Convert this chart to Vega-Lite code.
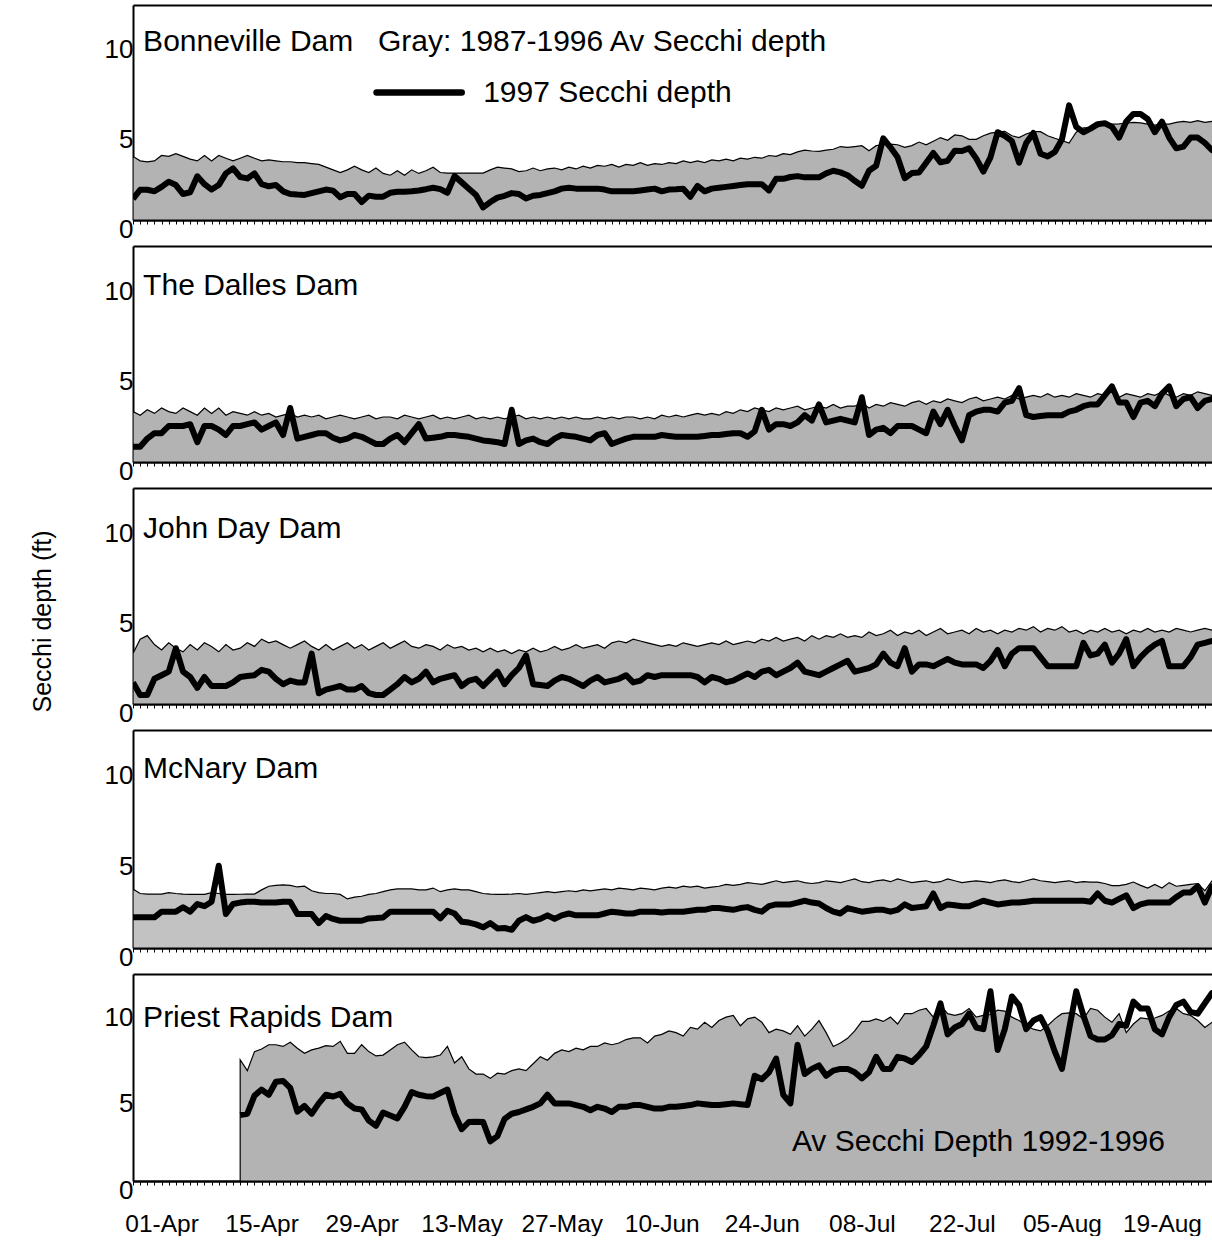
{
  "$schema": "https://vega.github.io/schema/vega-lite/v6.json",
  "background": "white",
  "padding": {"left": 30, "top": 5, "right": 0, "bottom": 0},
  "config": {
    "view": {"stroke": null},
    "font": "Liberation Sans",
    "axis": {"labelColor": "black", "titleColor": "black", "titleFontWeight": "normal", "grid": false},
    "text": {"color": "black"}
  },
  "data": {"values": [
    {"date":"1997-03-28","bon_avg":3.55,"bon_1997":1.17,"dal_avg":2.8,"dal_1997":0.85,"jd_avg":2.8,"jd_1997":1.2,"mcn_avg":3.25,"mcn_1997":1.69},
    {"date":"1997-03-29","bon_avg":3.3,"bon_1997":1.69,"dal_avg":2.6,"dal_1997":0.85,"jd_avg":3.6,"jd_1997":0.5,"mcn_avg":3.0,"mcn_1997":1.69},
    {"date":"1997-03-30","bon_avg":3.25,"bon_1997":1.69,"dal_avg":2.9,"dal_1997":1.3,"jd_avg":3.8,"jd_1997":0.5,"mcn_avg":2.97,"mcn_1997":1.69},
    {"date":"1997-03-31","bon_avg":3.3,"bon_1997":1.6,"dal_avg":2.7,"dal_1997":1.6,"jd_avg":3.3,"jd_1997":1.4,"mcn_avg":2.97,"mcn_1997":1.69},
    {"date":"1997-04-01","bon_avg":3.6,"bon_1997":1.85,"dal_avg":3.0,"dal_1997":1.6,"jd_avg":3.0,"jd_1997":1.6,"mcn_avg":2.97,"mcn_1997":2.0},
    {"date":"1997-04-02","bon_avg":3.55,"bon_1997":2.14,"dal_avg":2.8,"dal_1997":2.0,"jd_avg":3.4,"jd_1997":1.8,"mcn_avg":3.05,"mcn_1997":2.0},
    {"date":"1997-04-03","bon_avg":3.7,"bon_1997":1.95,"dal_avg":2.7,"dal_1997":2.0,"jd_avg":3.1,"jd_1997":3.1,"mcn_avg":3.0,"mcn_1997":2.0},
    {"date":"1997-04-04","bon_avg":3.55,"bon_1997":1.45,"dal_avg":3.0,"dal_1997":2.0,"jd_avg":2.9,"jd_1997":1.8,"mcn_avg":2.97,"mcn_1997":2.24},
    {"date":"1997-04-05","bon_avg":3.4,"bon_1997":1.55,"dal_avg":2.8,"dal_1997":2.1,"jd_avg":3.3,"jd_1997":1.5,"mcn_avg":2.95,"mcn_1997":2.0},
    {"date":"1997-04-06","bon_avg":3.3,"bon_1997":2.44,"dal_avg":2.6,"dal_1997":1.1,"jd_avg":3.0,"jd_1997":0.9,"mcn_avg":2.95,"mcn_1997":2.42},
    {"date":"1997-04-07","bon_avg":3.6,"bon_1997":2.0,"dal_avg":3.0,"dal_1997":2.0,"jd_avg":3.4,"jd_1997":1.5,"mcn_avg":2.95,"mcn_1997":2.3},
    {"date":"1997-04-08","bon_avg":3.3,"bon_1997":1.7,"dal_avg":2.7,"dal_1997":2.0,"jd_avg":3.2,"jd_1997":1.0,"mcn_avg":3.05,"mcn_1997":2.55},
    {"date":"1997-04-09","bon_avg":3.6,"bon_1997":1.95,"dal_avg":3.0,"dal_1997":1.8,"jd_avg":2.9,"jd_1997":1.0,"mcn_avg":3.0,"mcn_1997":4.53},
    {"date":"1997-04-10","bon_avg":3.45,"bon_1997":2.6,"dal_avg":2.6,"dal_1997":1.5,"jd_avg":3.3,"jd_1997":1.0,"mcn_avg":2.95,"mcn_1997":1.87},
    {"date":"1997-04-11","bon_avg":3.3,"bon_1997":2.88,"dal_avg":2.8,"dal_1997":2.0,"jd_avg":3.0,"jd_1997":1.2,"mcn_avg":2.95,"mcn_1997":2.42},
    {"date":"1997-04-12","bon_avg":3.45,"bon_1997":2.4,"dal_avg":2.7,"dal_1997":2.0,"jd_avg":3.1,"jd_1997":1.5,"mcn_avg":2.96,"mcn_1997":2.5,"pr_avg":7.03,"pr_1997":3.83},
    {"date":"1997-04-13","bon_avg":3.6,"bon_1997":2.32,"dal_avg":2.6,"dal_1997":2.1,"jd_avg":3.4,"jd_1997":1.55,"mcn_avg":2.97,"mcn_1997":2.55,"pr_avg":6.4,"pr_1997":3.9},
    {"date":"1997-04-14","bon_avg":3.45,"bon_1997":2.6,"dal_avg":2.8,"dal_1997":2.2,"jd_avg":3.2,"jd_1997":1.6,"mcn_avg":2.97,"mcn_1997":2.55,"pr_avg":7.5,"pr_1997":4.95},
    {"date":"1997-04-15","bon_avg":3.3,"bon_1997":2.0,"dal_avg":2.6,"dal_1997":1.8,"jd_avg":3.6,"jd_1997":1.9,"mcn_avg":3.2,"mcn_1997":2.5,"pr_avg":7.65,"pr_1997":5.3},
    {"date":"1997-04-16","bon_avg":3.35,"bon_1997":1.88,"dal_avg":2.7,"dal_1997":2.0,"jd_avg":3.4,"jd_1997":1.8,"mcn_avg":3.4,"mcn_1997":2.5,"pr_avg":7.9,"pr_1997":5.0},
    {"date":"1997-04-17","bon_avg":3.3,"bon_1997":1.95,"dal_avg":2.5,"dal_1997":2.2,"jd_avg":3.5,"jd_1997":1.4,"mcn_avg":3.45,"mcn_1997":2.5,"pr_avg":7.9,"pr_1997":5.75},
    {"date":"1997-04-18","bon_avg":3.25,"bon_1997":1.6,"dal_avg":2.6,"dal_1997":1.5,"jd_avg":3.3,"jd_1997":1.1,"mcn_avg":3.47,"mcn_1997":2.55,"pr_avg":7.8,"pr_1997":5.8},
    {"date":"1997-04-19","bon_avg":3.25,"bon_1997":1.45,"dal_avg":2.7,"dal_1997":3.0,"jd_avg":3.1,"jd_1997":1.3,"mcn_avg":3.45,"mcn_1997":2.55,"pr_avg":8.04,"pr_1997":5.4},
    {"date":"1997-04-20","bon_avg":3.2,"bon_1997":1.42,"dal_avg":2.5,"dal_1997":1.3,"jd_avg":3.3,"jd_1997":1.2,"mcn_avg":3.36,"mcn_1997":1.87,"pr_avg":7.7,"pr_1997":4.02},
    {"date":"1997-04-21","bon_avg":3.2,"bon_1997":1.4,"dal_avg":2.6,"dal_1997":1.4,"jd_avg":3.5,"jd_1997":1.2,"mcn_avg":3.4,"mcn_1997":1.87,"pr_avg":7.4,"pr_1997":4.35},
    {"date":"1997-04-22","bon_avg":3.15,"bon_1997":1.5,"dal_avg":2.5,"dal_1997":1.5,"jd_avg":3.2,"jd_1997":2.8,"mcn_avg":3.15,"mcn_1997":1.87,"pr_avg":7.6,"pr_1997":3.9},
    {"date":"1997-04-23","bon_avg":3.1,"bon_1997":1.6,"dal_avg":2.6,"dal_1997":1.6,"jd_avg":3.0,"jd_1997":0.6,"mcn_avg":3.05,"mcn_1997":1.37,"pr_avg":7.7,"pr_1997":4.5},
    {"date":"1997-04-24","bon_avg":2.95,"bon_1997":1.7,"dal_avg":2.4,"dal_1997":1.6,"jd_avg":3.3,"jd_1997":0.8,"mcn_avg":3.0,"mcn_1997":1.76,"pr_avg":7.85,"pr_1997":5.0},
    {"date":"1997-04-25","bon_avg":2.8,"bon_1997":1.64,"dal_avg":2.5,"dal_1997":1.35,"jd_avg":3.0,"jd_1997":0.9,"mcn_avg":3.0,"mcn_1997":1.6,"pr_avg":7.8,"pr_1997":4.9},
    {"date":"1997-04-26","bon_avg":2.65,"bon_1997":1.27,"dal_avg":2.6,"dal_1997":1.2,"jd_avg":3.2,"jd_1997":1.0,"mcn_avg":2.95,"mcn_1997":1.5,"pr_avg":8.1,"pr_1997":5.05},
    {"date":"1997-04-27","bon_avg":2.8,"bon_1997":1.45,"dal_avg":2.5,"dal_1997":1.3,"jd_avg":3.4,"jd_1997":0.8,"mcn_avg":2.7,"mcn_1997":1.5,"pr_avg":7.4,"pr_1997":4.5},
    {"date":"1997-04-28","bon_avg":3.0,"bon_1997":1.45,"dal_avg":2.4,"dal_1997":1.5,"jd_avg":3.1,"jd_1997":0.8,"mcn_avg":2.8,"mcn_1997":1.5,"pr_avg":7.4,"pr_1997":4.2},
    {"date":"1997-04-29","bon_avg":2.8,"bon_1997":1.0,"dal_avg":2.5,"dal_1997":1.4,"jd_avg":3.3,"jd_1997":1.0,"mcn_avg":2.85,"mcn_1997":1.5,"pr_avg":7.9,"pr_1997":4.15},
    {"date":"1997-04-30","bon_avg":2.65,"bon_1997":1.36,"dal_avg":2.6,"dal_1997":1.2,"jd_avg":3.0,"jd_1997":0.6,"mcn_avg":2.95,"mcn_1997":1.63,"pr_avg":7.5,"pr_1997":3.5},
    {"date":"1997-05-01","bon_avg":2.9,"bon_1997":1.3,"dal_avg":2.4,"dal_1997":1.0,"jd_avg":3.2,"jd_1997":0.5,"mcn_avg":3.0,"mcn_1997":1.65,"pr_avg":7.25,"pr_1997":3.2},
    {"date":"1997-05-02","bon_avg":2.6,"bon_1997":1.3,"dal_avg":2.5,"dal_1997":1.0,"jd_avg":3.4,"jd_1997":0.5,"mcn_avg":3.1,"mcn_1997":1.68,"pr_avg":7.3,"pr_1997":3.97},
    {"date":"1997-05-03","bon_avg":2.5,"bon_1997":1.52,"dal_avg":2.5,"dal_1997":1.3,"jd_avg":3.1,"jd_1997":0.8,"mcn_avg":3.2,"mcn_1997":2.0,"pr_avg":7.6,"pr_1997":3.8},
    {"date":"1997-05-04","bon_avg":2.75,"bon_1997":1.58,"dal_avg":2.4,"dal_1997":1.5,"jd_avg":3.3,"jd_1997":1.1,"mcn_avg":3.25,"mcn_1997":2.0,"pr_avg":7.9,"pr_1997":3.63},
    {"date":"1997-05-05","bon_avg":2.5,"bon_1997":1.58,"dal_avg":2.6,"dal_1997":1.1,"jd_avg":3.5,"jd_1997":1.5,"mcn_avg":3.25,"mcn_1997":2.0,"pr_avg":8.05,"pr_1997":4.3},
    {"date":"1997-05-06","bon_avg":2.8,"bon_1997":1.6,"dal_avg":2.5,"dal_1997":1.6,"jd_avg":3.2,"jd_1997":1.2,"mcn_avg":3.25,"mcn_1997":2.0,"pr_avg":7.6,"pr_1997":5.15},
    {"date":"1997-05-07","bon_avg":2.6,"bon_1997":1.65,"dal_avg":2.4,"dal_1997":2.1,"jd_avg":3.1,"jd_1997":1.4,"mcn_avg":3.2,"mcn_1997":2.0,"pr_avg":7.2,"pr_1997":5.0},
    {"date":"1997-05-08","bon_avg":2.75,"bon_1997":1.72,"dal_avg":2.5,"dal_1997":1.3,"jd_avg":3.3,"jd_1997":1.8,"mcn_avg":3.2,"mcn_1997":2.0,"pr_avg":7.15,"pr_1997":4.92},
    {"date":"1997-05-09","bon_avg":2.95,"bon_1997":1.8,"dal_avg":2.6,"dal_1997":1.35,"jd_avg":3.2,"jd_1997":1.2,"mcn_avg":3.3,"mcn_1997":2.0,"pr_avg":7.2,"pr_1997":4.9},
    {"date":"1997-05-10","bon_avg":2.65,"bon_1997":1.72,"dal_avg":2.4,"dal_1997":1.4,"jd_avg":3.0,"jd_1997":1.4,"mcn_avg":3.1,"mcn_1997":1.63,"pr_avg":7.3,"pr_1997":5.1},
    {"date":"1997-05-11","bon_avg":2.62,"bon_1997":1.52,"dal_avg":2.5,"dal_1997":1.5,"jd_avg":3.3,"jd_1997":1.5,"mcn_avg":3.2,"mcn_1997":2.05,"pr_avg":7.8,"pr_1997":5.3},
    {"date":"1997-05-12","bon_avg":2.62,"bon_1997":2.45,"dal_avg":2.4,"dal_1997":1.5,"jd_avg":3.1,"jd_1997":1.6,"mcn_avg":3.25,"mcn_1997":1.9,"pr_avg":6.84,"pr_1997":3.9},
    {"date":"1997-05-13","bon_avg":2.62,"bon_1997":2.1,"dal_avg":2.5,"dal_1997":1.45,"jd_avg":3.2,"jd_1997":1.0,"mcn_avg":3.2,"mcn_1997":1.45,"pr_avg":7.2,"pr_1997":3.0},
    {"date":"1997-05-14","bon_avg":2.62,"bon_1997":1.75,"dal_avg":2.6,"dal_1997":1.4,"jd_avg":3.0,"jd_1997":1.3,"mcn_avg":3.2,"mcn_1997":1.4,"pr_avg":6.5,"pr_1997":3.42},
    {"date":"1997-05-15","bon_avg":2.62,"bon_1997":1.4,"dal_avg":2.4,"dal_1997":1.3,"jd_avg":3.1,"jd_1997":1.4,"mcn_avg":3.1,"mcn_1997":1.3,"pr_avg":6.2,"pr_1997":3.44},
    {"date":"1997-05-16","bon_avg":2.62,"bon_1997":0.7,"dal_avg":2.5,"dal_1997":1.2,"jd_avg":2.9,"jd_1997":1.0,"mcn_avg":3.0,"mcn_1997":1.14,"pr_avg":6.2,"pr_1997":3.42},
    {"date":"1997-05-17","bon_avg":2.8,"bon_1997":1.0,"dal_avg":2.4,"dal_1997":1.15,"jd_avg":3.1,"jd_1997":1.4,"mcn_avg":2.97,"mcn_1997":1.37,"pr_avg":5.95,"pr_1997":2.3},
    {"date":"1997-05-18","bon_avg":2.95,"bon_1997":1.25,"dal_avg":2.5,"dal_1997":1.1,"jd_avg":2.9,"jd_1997":1.8,"mcn_avg":2.95,"mcn_1997":1.08,"pr_avg":6.25,"pr_1997":2.6},
    {"date":"1997-05-19","bon_avg":2.9,"bon_1997":1.35,"dal_avg":2.4,"dal_1997":1.0,"jd_avg":3.0,"jd_1997":1.1,"mcn_avg":2.95,"mcn_1997":1.1,"pr_avg":6.2,"pr_1997":3.6},
    {"date":"1997-05-20","bon_avg":2.85,"bon_1997":1.5,"dal_avg":2.5,"dal_1997":2.9,"jd_avg":2.8,"jd_1997":1.6,"mcn_avg":2.97,"mcn_1997":1.0,"pr_avg":6.4,"pr_1997":3.9},
    {"date":"1997-05-21","bon_avg":2.7,"bon_1997":1.45,"dal_avg":2.6,"dal_1997":1.0,"jd_avg":3.0,"jd_1997":2.0,"mcn_avg":3.0,"mcn_1997":1.5,"pr_avg":6.5,"pr_1997":4.0},
    {"date":"1997-05-22","bon_avg":2.75,"bon_1997":1.2,"dal_avg":2.4,"dal_1997":1.2,"jd_avg":2.9,"jd_1997":2.7,"mcn_avg":2.95,"mcn_1997":1.7,"pr_avg":6.4,"pr_1997":4.15},
    {"date":"1997-05-23","bon_avg":2.9,"bon_1997":1.35,"dal_avg":2.5,"dal_1997":1.3,"jd_avg":3.1,"jd_1997":1.1,"mcn_avg":3.0,"mcn_1997":1.5,"pr_avg":6.8,"pr_1997":4.3},
    {"date":"1997-05-24","bon_avg":2.75,"bon_1997":1.4,"dal_avg":2.4,"dal_1997":1.1,"jd_avg":2.9,"jd_1997":1.05,"mcn_avg":3.05,"mcn_1997":1.6,"pr_avg":7.2,"pr_1997":4.5},
    {"date":"1997-05-25","bon_avg":2.85,"bon_1997":1.5,"dal_avg":2.5,"dal_1997":1.0,"jd_avg":3.0,"jd_1997":1.0,"mcn_avg":3.1,"mcn_1997":1.8,"pr_avg":7.0,"pr_1997":5.0},
    {"date":"1997-05-26","bon_avg":2.9,"bon_1997":1.6,"dal_avg":2.4,"dal_1997":1.3,"jd_avg":3.2,"jd_1997":1.3,"mcn_avg":3.05,"mcn_1997":1.6,"pr_avg":7.4,"pr_1997":4.5},
    {"date":"1997-05-27","bon_avg":2.8,"bon_1997":1.75,"dal_avg":2.5,"dal_1997":1.5,"jd_avg":3.0,"jd_1997":1.5,"mcn_avg":3.1,"mcn_1997":1.8,"pr_avg":7.6,"pr_1997":4.5},
    {"date":"1997-05-28","bon_avg":2.95,"bon_1997":1.8,"dal_avg":2.4,"dal_1997":1.45,"jd_avg":3.1,"jd_1997":1.4,"mcn_avg":3.15,"mcn_1997":1.9,"pr_avg":7.5,"pr_1997":4.5},
    {"date":"1997-05-29","bon_avg":2.85,"bon_1997":1.75,"dal_avg":2.5,"dal_1997":1.4,"jd_avg":3.3,"jd_1997":1.2,"mcn_avg":3.1,"mcn_1997":1.8,"pr_avg":7.7,"pr_1997":4.4},
    {"date":"1997-05-30","bon_avg":3.0,"bon_1997":1.75,"dal_avg":2.4,"dal_1997":1.3,"jd_avg":3.1,"jd_1997":1.0,"mcn_avg":3.2,"mcn_1997":1.8,"pr_avg":7.6,"pr_1997":4.3},
    {"date":"1997-05-31","bon_avg":2.9,"bon_1997":1.75,"dal_avg":2.4,"dal_1997":1.2,"jd_avg":3.2,"jd_1997":1.3,"mcn_avg":3.15,"mcn_1997":1.8,"pr_avg":7.8,"pr_1997":4.1},
    {"date":"1997-06-01","bon_avg":3.05,"bon_1997":1.75,"dal_avg":2.5,"dal_1997":1.5,"jd_avg":3.3,"jd_1997":1.5,"mcn_avg":3.2,"mcn_1997":1.8,"pr_avg":7.8,"pr_1997":4.3},
    {"date":"1997-06-02","bon_avg":3.0,"bon_1997":1.7,"dal_avg":2.4,"dal_1997":1.6,"jd_avg":3.1,"jd_1997":1.2,"mcn_avg":3.25,"mcn_1997":1.9,"pr_avg":8.0,"pr_1997":4.2},
    {"date":"1997-06-03","bon_avg":3.1,"bon_1997":1.6,"dal_avg":2.5,"dal_1997":1.0,"jd_avg":3.4,"jd_1997":1.3,"mcn_avg":3.2,"mcn_1997":2.0,"pr_avg":7.9,"pr_1997":4.0},
    {"date":"1997-06-04","bon_avg":2.95,"bon_1997":1.6,"dal_avg":2.4,"dal_1997":1.15,"jd_avg":3.5,"jd_1997":1.4,"mcn_avg":3.3,"mcn_1997":1.95,"pr_avg":8.0,"pr_1997":4.3},
    {"date":"1997-06-05","bon_avg":3.1,"bon_1997":1.6,"dal_avg":2.5,"dal_1997":1.3,"jd_avg":3.4,"jd_1997":1.6,"mcn_avg":3.25,"mcn_1997":1.9,"pr_avg":8.2,"pr_1997":4.3},
    {"date":"1997-06-06","bon_avg":3.05,"bon_1997":1.6,"dal_avg":2.5,"dal_1997":1.4,"jd_avg":3.6,"jd_1997":1.2,"mcn_avg":3.2,"mcn_1997":1.9,"pr_avg":8.3,"pr_1997":4.4},
    {"date":"1997-06-07","bon_avg":3.2,"bon_1997":1.65,"dal_avg":2.4,"dal_1997":1.4,"jd_avg":3.5,"jd_1997":1.3,"mcn_avg":3.3,"mcn_1997":2.0,"pr_avg":8.3,"pr_1997":4.4},
    {"date":"1997-06-08","bon_avg":3.05,"bon_1997":1.7,"dal_avg":2.5,"dal_1997":1.4,"jd_avg":3.4,"jd_1997":1.6,"mcn_avg":3.25,"mcn_1997":2.0,"pr_avg":8.0,"pr_1997":4.3},
    {"date":"1997-06-09","bon_avg":3.15,"bon_1997":1.75,"dal_avg":2.4,"dal_1997":1.4,"jd_avg":3.3,"jd_1997":1.5,"mcn_avg":3.2,"mcn_1997":2.0,"pr_avg":8.4,"pr_1997":4.2},
    {"date":"1997-06-10","bon_avg":3.1,"bon_1997":1.6,"dal_avg":2.6,"dal_1997":1.5,"jd_avg":3.2,"jd_1997":1.6,"mcn_avg":3.3,"mcn_1997":1.95,"pr_avg":8.5,"pr_1997":4.2},
    {"date":"1997-06-11","bon_avg":3.2,"bon_1997":1.7,"dal_avg":2.5,"dal_1997":1.45,"jd_avg":3.3,"jd_1997":1.6,"mcn_avg":3.35,"mcn_1997":2.0,"pr_avg":8.7,"pr_1997":4.3},
    {"date":"1997-06-12","bon_avg":3.15,"bon_1997":1.72,"dal_avg":2.6,"dal_1997":1.4,"jd_avg":3.2,"jd_1997":1.6,"mcn_avg":3.3,"mcn_1997":2.0,"pr_avg":8.6,"pr_1997":4.3},
    {"date":"1997-06-13","bon_avg":3.3,"bon_1997":1.75,"dal_avg":2.5,"dal_1997":1.4,"jd_avg":3.4,"jd_1997":1.6,"mcn_avg":3.4,"mcn_1997":2.0,"pr_avg":8.4,"pr_1997":4.35},
    {"date":"1997-06-14","bon_avg":3.2,"bon_1997":1.3,"dal_avg":2.6,"dal_1997":1.4,"jd_avg":3.3,"jd_1997":1.6,"mcn_avg":3.35,"mcn_1997":2.05,"pr_avg":8.9,"pr_1997":4.4},
    {"date":"1997-06-15","bon_avg":3.3,"bon_1997":1.9,"dal_avg":2.7,"dal_1997":1.4,"jd_avg":3.2,"jd_1997":1.5,"mcn_avg":3.4,"mcn_1997":2.1,"pr_avg":8.8,"pr_1997":4.5},
    {"date":"1997-06-16","bon_avg":3.2,"bon_1997":1.6,"dal_avg":2.6,"dal_1997":1.45,"jd_avg":3.3,"jd_1997":1.2,"mcn_avg":3.3,"mcn_1997":2.1,"pr_avg":9.2,"pr_1997":4.45},
    {"date":"1997-06-17","bon_avg":3.35,"bon_1997":1.75,"dal_avg":2.7,"dal_1997":1.5,"jd_avg":3.4,"jd_1997":1.5,"mcn_avg":3.35,"mcn_1997":2.2,"pr_avg":8.9,"pr_1997":4.4},
    {"date":"1997-06-18","bon_avg":3.3,"bon_1997":1.8,"dal_avg":2.6,"dal_1997":1.5,"jd_avg":3.3,"jd_1997":1.4,"mcn_avg":3.4,"mcn_1997":2.2,"pr_avg":9.3,"pr_1997":4.4},
    {"date":"1997-06-19","bon_avg":3.4,"bon_1997":1.85,"dal_avg":2.8,"dal_1997":1.55,"jd_avg":3.5,"jd_1997":1.2,"mcn_avg":3.5,"mcn_1997":2.15,"pr_avg":9.5,"pr_1997":4.45},
    {"date":"1997-06-20","bon_avg":3.3,"bon_1997":1.9,"dal_avg":2.7,"dal_1997":1.6,"jd_avg":3.3,"jd_1997":1.3,"mcn_avg":3.45,"mcn_1997":2.1,"pr_avg":9.6,"pr_1997":4.5},
    {"date":"1997-06-21","bon_avg":3.45,"bon_1997":1.95,"dal_avg":2.9,"dal_1997":1.6,"jd_avg":3.4,"jd_1997":1.5,"mcn_avg":3.5,"mcn_1997":2.2,"pr_avg":9.0,"pr_1997":4.45},
    {"date":"1997-06-22","bon_avg":3.4,"bon_1997":2.0,"dal_avg":2.8,"dal_1997":1.4,"jd_avg":3.5,"jd_1997":1.7,"mcn_avg":3.6,"mcn_1997":2.25,"pr_avg":9.4,"pr_1997":4.4},
    {"date":"1997-06-23","bon_avg":3.5,"bon_1997":2.0,"dal_avg":3.0,"dal_1997":1.7,"jd_avg":3.4,"jd_1997":1.5,"mcn_avg":3.55,"mcn_1997":2.1,"pr_avg":9.5,"pr_1997":6.1},
    {"date":"1997-06-24","bon_avg":3.45,"bon_1997":2.0,"dal_avg":2.9,"dal_1997":2.9,"jd_avg":3.6,"jd_1997":1.8,"mcn_avg":3.5,"mcn_1997":2.0,"pr_avg":9.2,"pr_1997":5.9},
    {"date":"1997-06-25","bon_avg":3.6,"bon_1997":1.65,"dal_avg":2.8,"dal_1997":1.8,"jd_avg":3.5,"jd_1997":1.9,"mcn_avg":3.6,"mcn_1997":2.3,"pr_avg":8.6,"pr_1997":6.3},
    {"date":"1997-06-26","bon_avg":3.55,"bon_1997":2.3,"dal_avg":3.0,"dal_1997":2.1,"jd_avg":3.7,"jd_1997":1.6,"mcn_avg":3.7,"mcn_1997":2.4,"pr_avg":8.8,"pr_1997":7.1},
    {"date":"1997-06-27","bon_avg":3.7,"bon_1997":2.3,"dal_avg":2.9,"dal_1997":2.1,"jd_avg":3.5,"jd_1997":1.8,"mcn_avg":3.6,"mcn_1997":2.4,"pr_avg":8.7,"pr_1997":5.0},
    {"date":"1997-06-28","bon_avg":3.65,"bon_1997":2.4,"dal_avg":3.0,"dal_1997":2.0,"jd_avg":3.6,"jd_1997":2.0,"mcn_avg":3.65,"mcn_1997":2.4,"pr_avg":8.5,"pr_1997":4.5},
    {"date":"1997-06-29","bon_avg":3.8,"bon_1997":2.45,"dal_avg":3.1,"dal_1997":2.2,"jd_avg":3.7,"jd_1997":2.3,"mcn_avg":3.7,"mcn_1997":2.5,"pr_avg":9.0,"pr_1997":7.9},
    {"date":"1997-06-30","bon_avg":3.9,"bon_1997":2.38,"dal_avg":2.9,"dal_1997":2.6,"jd_avg":3.5,"jd_1997":1.8,"mcn_avg":3.6,"mcn_1997":2.6,"pr_avg":8.4,"pr_1997":6.2},
    {"date":"1997-07-01","bon_avg":3.85,"bon_1997":2.38,"dal_avg":3.0,"dal_1997":2.3,"jd_avg":3.8,"jd_1997":1.7,"mcn_avg":3.55,"mcn_1997":2.5,"pr_avg":8.8,"pr_1997":6.5},
    {"date":"1997-07-02","bon_avg":3.83,"bon_1997":2.38,"dal_avg":3.1,"dal_1997":3.2,"jd_avg":3.6,"jd_1997":1.6,"mcn_avg":3.6,"mcn_1997":2.45,"pr_avg":9.3,"pr_1997":6.7},
    {"date":"1997-07-03","bon_avg":3.9,"bon_1997":2.6,"dal_avg":3.0,"dal_1997":2.2,"jd_avg":3.8,"jd_1997":1.8,"mcn_avg":3.7,"mcn_1997":2.2,"pr_avg":8.6,"pr_1997":6.1},
    {"date":"1997-07-04","bon_avg":3.95,"bon_1997":2.75,"dal_avg":3.2,"dal_1997":2.3,"jd_avg":3.7,"jd_1997":2.0,"mcn_avg":3.65,"mcn_1997":2.0,"pr_avg":7.8,"pr_1997":6.4},
    {"date":"1997-07-05","bon_avg":4.1,"bon_1997":2.66,"dal_avg":3.0,"dal_1997":2.4,"jd_avg":3.9,"jd_1997":2.2,"mcn_avg":3.6,"mcn_1997":1.9,"pr_avg":8.0,"pr_1997":6.5},
    {"date":"1997-07-06","bon_avg":4.05,"bon_1997":2.5,"dal_avg":3.1,"dal_1997":2.3,"jd_avg":3.7,"jd_1997":2.4,"mcn_avg":3.7,"mcn_1997":2.2,"pr_avg":8.27,"pr_1997":6.5},
    {"date":"1997-07-07","bon_avg":4.1,"bon_1997":2.19,"dal_avg":3.1,"dal_1997":2.2,"jd_avg":3.8,"jd_1997":1.8,"mcn_avg":3.8,"mcn_1997":2.1,"pr_avg":8.7,"pr_1997":6.3},
    {"date":"1997-07-08","bon_avg":4.15,"bon_1997":1.91,"dal_avg":3.3,"dal_1997":3.6,"jd_avg":3.7,"jd_1997":1.9,"mcn_avg":3.65,"mcn_1997":2.0,"pr_avg":9.25,"pr_1997":5.95},
    {"date":"1997-07-09","bon_avg":3.87,"bon_1997":2.75,"dal_avg":3.0,"dal_1997":1.5,"jd_avg":4.0,"jd_1997":2.0,"mcn_avg":3.6,"mcn_1997":2.05,"pr_avg":9.25,"pr_1997":6.3},
    {"date":"1997-07-10","bon_avg":4.15,"bon_1997":3.03,"dal_avg":3.2,"dal_1997":1.8,"jd_avg":3.8,"jd_1997":2.2,"mcn_avg":3.7,"mcn_1997":2.1,"pr_avg":9.4,"pr_1997":7.2},
    {"date":"1997-07-11","bon_avg":4.2,"bon_1997":4.56,"dal_avg":3.1,"dal_1997":1.9,"jd_avg":3.9,"jd_1997":2.8,"mcn_avg":3.75,"mcn_1997":2.1,"pr_avg":9.25,"pr_1997":6.5},
    {"date":"1997-07-12","bon_avg":4.24,"bon_1997":4.06,"dal_avg":3.3,"dal_1997":1.6,"jd_avg":4.1,"jd_1997":2.3,"mcn_avg":3.65,"mcn_1997":2.0,"pr_avg":9.5,"pr_1997":6.5},
    {"date":"1997-07-13","bon_avg":4.2,"bon_1997":3.5,"dal_avg":3.2,"dal_1997":2.0,"jd_avg":3.8,"jd_1997":2.1,"mcn_avg":3.8,"mcn_1997":2.1,"pr_avg":9.1,"pr_1997":7.2},
    {"date":"1997-07-14","bon_avg":4.06,"bon_1997":2.33,"dal_avg":3.1,"dal_1997":2.0,"jd_avg":4.0,"jd_1997":3.1,"mcn_avg":3.7,"mcn_1997":2.4,"pr_avg":9.7,"pr_1997":7.1},
    {"date":"1997-07-15","bon_avg":4.15,"bon_1997":2.62,"dal_avg":3.3,"dal_1997":2.0,"jd_avg":3.9,"jd_1997":1.8,"mcn_avg":3.6,"mcn_1997":2.2,"pr_avg":9.7,"pr_1997":6.9},
    {"date":"1997-07-16","bon_avg":4.35,"bon_1997":2.65,"dal_avg":3.4,"dal_1997":1.8,"jd_avg":4.1,"jd_1997":2.2,"mcn_avg":3.65,"mcn_1997":2.25,"pr_avg":9.9,"pr_1997":7.3},
    {"date":"1997-07-17","bon_avg":4.2,"bon_1997":3.2,"dal_avg":3.2,"dal_1997":1.6,"jd_avg":3.8,"jd_1997":2.2,"mcn_avg":3.7,"mcn_1997":2.3,"pr_avg":10.0,"pr_1997":7.8},
    {"date":"1997-07-18","bon_avg":4.4,"bon_1997":3.74,"dal_avg":3.4,"dal_1997":2.8,"jd_avg":4.0,"jd_1997":2.1,"mcn_avg":3.6,"mcn_1997":3.0,"pr_avg":9.5,"pr_1997":9.0},
    {"date":"1997-07-19","bon_avg":4.6,"bon_1997":3.22,"dal_avg":3.3,"dal_1997":2.1,"jd_avg":4.2,"jd_1997":2.3,"mcn_avg":3.65,"mcn_1997":2.2,"pr_avg":10.2,"pr_1997":10.3},
    {"date":"1997-07-20","bon_avg":4.45,"bon_1997":3.3,"dal_avg":3.5,"dal_1997":2.9,"jd_avg":3.9,"jd_1997":2.5,"mcn_avg":3.8,"mcn_1997":2.4,"pr_avg":9.7,"pr_1997":8.5},
    {"date":"1997-07-21","bon_avg":4.75,"bon_1997":3.87,"dal_avg":3.4,"dal_1997":2.0,"jd_avg":4.0,"jd_1997":2.3,"mcn_avg":3.7,"mcn_1997":2.35,"pr_avg":9.6,"pr_1997":8.9},
    {"date":"1997-07-22","bon_avg":4.7,"bon_1997":3.85,"dal_avg":3.3,"dal_1997":1.2,"jd_avg":4.1,"jd_1997":2.2,"mcn_avg":3.6,"mcn_1997":2.3,"pr_avg":9.7,"pr_1997":9.1},
    {"date":"1997-07-23","bon_avg":4.5,"bon_1997":4.0,"dal_avg":3.5,"dal_1997":2.6,"jd_avg":3.9,"jd_1997":2.2,"mcn_avg":3.65,"mcn_1997":2.3,"pr_avg":10.0,"pr_1997":9.7},
    {"date":"1997-07-24","bon_avg":4.5,"bon_1997":3.44,"dal_avg":3.6,"dal_1997":2.8,"jd_avg":4.2,"jd_1997":2.2,"mcn_avg":3.7,"mcn_1997":2.45,"pr_avg":9.5,"pr_1997":8.9},
    {"date":"1997-07-25","bon_avg":4.7,"bon_1997":2.7,"dal_avg":3.4,"dal_1997":2.9,"jd_avg":4.0,"jd_1997":2.0,"mcn_avg":3.65,"mcn_1997":2.6,"pr_avg":9.6,"pr_1997":8.8},
    {"date":"1997-07-26","bon_avg":4.85,"bon_1997":3.5,"dal_avg":3.5,"dal_1997":2.9,"jd_avg":4.1,"jd_1997":2.4,"mcn_avg":3.6,"mcn_1997":2.5,"pr_avg":9.65,"pr_1997":11.0},
    {"date":"1997-07-27","bon_avg":4.9,"bon_1997":4.9,"dal_avg":3.6,"dal_1997":2.8,"jd_avg":3.9,"jd_1997":3.0,"mcn_avg":3.7,"mcn_1997":2.4,"pr_avg":9.9,"pr_1997":7.6},
    {"date":"1997-07-28","bon_avg":4.95,"bon_1997":4.7,"dal_avg":3.5,"dal_1997":3.3,"jd_avg":4.1,"jd_1997":2.1,"mcn_avg":3.75,"mcn_1997":2.45,"pr_avg":9.85,"pr_1997":8.8},
    {"date":"1997-07-29","bon_avg":4.7,"bon_1997":4.4,"dal_avg":3.7,"dal_1997":3.4,"jd_avg":4.0,"jd_1997":2.8,"mcn_avg":3.65,"mcn_1997":2.5,"pr_avg":9.5,"pr_1997":10.7},
    {"date":"1997-07-30","bon_avg":4.6,"bon_1997":3.2,"dal_avg":3.5,"dal_1997":4.1,"jd_avg":4.2,"jd_1997":3.1,"mcn_avg":3.6,"mcn_1997":2.5,"pr_avg":9.3,"pr_1997":10.2},
    {"date":"1997-07-31","bon_avg":4.8,"bon_1997":4.3,"dal_avg":3.6,"dal_1997":2.6,"jd_avg":4.1,"jd_1997":3.1,"mcn_avg":3.7,"mcn_1997":2.55,"pr_avg":9.0,"pr_1997":8.8},
    {"date":"1997-08-01","bon_avg":4.93,"bon_1997":4.86,"dal_avg":3.7,"dal_1997":2.5,"jd_avg":4.3,"jd_1997":3.1,"mcn_avg":3.8,"mcn_1997":2.6,"pr_avg":8.8,"pr_1997":9.3},
    {"date":"1997-08-02","bon_avg":4.93,"bon_1997":3.7,"dal_avg":3.6,"dal_1997":2.55,"jd_avg":4.0,"jd_1997":2.6,"mcn_avg":3.7,"mcn_1997":2.6,"pr_avg":8.7,"pr_1997":9.5},
    {"date":"1997-08-03","bon_avg":4.7,"bon_1997":3.55,"dal_avg":3.8,"dal_1997":2.6,"jd_avg":4.2,"jd_1997":2.1,"mcn_avg":3.65,"mcn_1997":2.6,"pr_avg":9.0,"pr_1997":8.7},
    {"date":"1997-08-04","bon_avg":4.56,"bon_1997":3.8,"dal_avg":3.6,"dal_1997":2.6,"jd_avg":4.1,"jd_1997":2.1,"mcn_avg":3.6,"mcn_1997":2.6,"pr_avg":9.4,"pr_1997":7.5},
    {"date":"1997-08-05","bon_avg":4.43,"bon_1997":4.5,"dal_avg":3.7,"dal_1997":2.6,"jd_avg":4.3,"jd_1997":2.1,"mcn_avg":3.65,"mcn_1997":2.6,"pr_avg":9.7,"pr_1997":6.5},
    {"date":"1997-08-06","bon_avg":4.3,"bon_1997":6.4,"dal_avg":3.6,"dal_1997":2.8,"jd_avg":4.0,"jd_1997":2.1,"mcn_avg":3.7,"mcn_1997":2.6,"pr_avg":9.75,"pr_1997":8.8},
    {"date":"1997-08-07","bon_avg":4.9,"bon_1997":5.2,"dal_avg":3.8,"dal_1997":2.9,"jd_avg":4.1,"jd_1997":2.1,"mcn_avg":3.6,"mcn_1997":2.6,"pr_avg":9.7,"pr_1997":11.0},
    {"date":"1997-08-08","bon_avg":5.15,"bon_1997":4.9,"dal_avg":3.7,"dal_1997":3.1,"jd_avg":3.9,"jd_1997":3.4,"mcn_avg":3.65,"mcn_1997":2.6,"pr_avg":9.4,"pr_1997":9.6},
    {"date":"1997-08-09","bon_avg":5.15,"bon_1997":5.1,"dal_avg":3.6,"dal_1997":3.2,"jd_avg":4.1,"jd_1997":2.7,"mcn_avg":3.63,"mcn_1997":2.55,"pr_avg":10.0,"pr_1997":8.4},
    {"date":"1997-08-10","bon_avg":5.2,"bon_1997":5.35,"dal_avg":3.8,"dal_1997":3.2,"jd_avg":4.0,"jd_1997":2.8,"mcn_avg":3.63,"mcn_1997":3.0,"pr_avg":9.9,"pr_1997":8.2},
    {"date":"1997-08-11","bon_avg":5.35,"bon_1997":5.4,"dal_avg":3.7,"dal_1997":3.7,"jd_avg":4.2,"jd_1997":3.3,"mcn_avg":3.55,"mcn_1997":2.6,"pr_avg":9.5,"pr_1997":8.2},
    {"date":"1997-08-12","bon_avg":5.35,"bon_1997":5.2,"dal_avg":3.9,"dal_1997":4.2,"jd_avg":4.0,"jd_1997":2.3,"mcn_avg":3.43,"mcn_1997":2.5,"pr_avg":9.2,"pr_1997":8.45},
    {"date":"1997-08-13","bon_avg":5.36,"bon_1997":4.6,"dal_avg":3.6,"dal_1997":3.3,"jd_avg":4.1,"jd_1997":2.8,"mcn_avg":3.43,"mcn_1997":2.7,"pr_avg":9.7,"pr_1997":9.1},
    {"date":"1997-08-14","bon_avg":5.4,"bon_1997":5.5,"dal_avg":3.8,"dal_1997":3.3,"jd_avg":3.9,"jd_1997":3.6,"mcn_avg":3.5,"mcn_1997":2.9,"pr_avg":8.6,"pr_1997":9.0},
    {"date":"1997-08-15","bon_avg":5.45,"bon_1997":5.92,"dal_avg":3.7,"dal_1997":2.5,"jd_avg":4.1,"jd_1997":2.1,"mcn_avg":3.63,"mcn_1997":2.2,"pr_avg":9.1,"pr_1997":10.4},
    {"date":"1997-08-16","bon_avg":5.42,"bon_1997":5.92,"dal_avg":3.6,"dal_1997":3.3,"jd_avg":4.0,"jd_1997":2.6,"mcn_avg":3.45,"mcn_1997":2.4,"pr_avg":9.45,"pr_1997":10.0},
    {"date":"1997-08-17","bon_avg":5.35,"bon_1997":5.64,"dal_avg":3.8,"dal_1997":3.4,"jd_avg":4.2,"jd_1997":3.0,"mcn_avg":3.3,"mcn_1997":2.5,"pr_avg":9.4,"pr_1997":10.0},
    {"date":"1997-08-18","bon_avg":5.3,"bon_1997":4.9,"dal_avg":3.7,"dal_1997":3.1,"jd_avg":4.0,"jd_1997":3.3,"mcn_avg":3.5,"mcn_1997":2.5,"pr_avg":9.45,"pr_1997":8.8},
    {"date":"1997-08-19","bon_avg":5.35,"bon_1997":5.49,"dal_avg":3.9,"dal_1997":3.8,"jd_avg":4.1,"jd_1997":3.5,"mcn_avg":3.3,"mcn_1997":2.5,"pr_avg":9.6,"pr_1997":8.5},
    {"date":"1997-08-20","bon_avg":5.35,"bon_1997":4.6,"dal_avg":3.7,"dal_1997":4.2,"jd_avg":4.0,"jd_1997":2.1,"mcn_avg":3.6,"mcn_1997":2.5,"pr_avg":9.85,"pr_1997":9.5},
    {"date":"1997-08-21","bon_avg":5.45,"bon_1997":4.0,"dal_avg":3.6,"dal_1997":3.1,"jd_avg":4.2,"jd_1997":2.1,"mcn_avg":3.4,"mcn_1997":2.8,"pr_avg":10.0,"pr_1997":10.2},
    {"date":"1997-08-22","bon_avg":5.5,"bon_1997":4.1,"dal_avg":3.8,"dal_1997":3.5,"jd_avg":4.1,"jd_1997":2.1,"mcn_avg":3.45,"mcn_1997":3.05,"pr_avg":9.7,"pr_1997":10.4},
    {"date":"1997-08-23","bon_avg":5.45,"bon_1997":4.6,"dal_avg":3.7,"dal_1997":3.6,"jd_avg":4.0,"jd_1997":2.6,"mcn_avg":3.5,"mcn_1997":3.05,"pr_avg":9.6,"pr_1997":9.8},
    {"date":"1997-08-24","bon_avg":5.55,"bon_1997":4.6,"dal_avg":3.9,"dal_1997":3.0,"jd_avg":4.1,"jd_1997":3.3,"mcn_avg":3.55,"mcn_1997":3.4,"pr_avg":9.3,"pr_1997":9.7},
    {"date":"1997-08-25","bon_avg":5.45,"bon_1997":4.3,"dal_avg":3.8,"dal_1997":3.4,"jd_avg":4.2,"jd_1997":3.4,"mcn_avg":3.15,"mcn_1997":2.5,"pr_avg":8.9,"pr_1997":10.3},
    {"date":"1997-08-26","bon_avg":5.5,"bon_1997":3.9,"dal_avg":3.7,"dal_1997":3.5,"jd_avg":4.1,"jd_1997":3.5,"mcn_avg":3.7,"mcn_1997":3.4,"pr_avg":9.2,"pr_1997":10.9},
    {"date":"1997-08-27","bon_avg":5.5,"bon_1997":3.8,"dal_avg":3.8,"dal_1997":3.5,"jd_avg":4.1,"jd_1997":3.5,"mcn_avg":3.7,"mcn_1997":3.4,"pr_avg":9.2,"pr_1997":10.9}
  ]},
  "spacing": 26,
  "bounds": "flush",
  "vconcat": [
    {
      "width": 1079, "height": 215,
      "layer": [
        {
          "mark": {"type": "area", "fill": "#b3b3b3", "stroke": "black", "strokeWidth": 1.2, "clip": true},
          "encoding": {
            "x": {"field": "date", "type": "temporal",
                  "scale": {"type": "utc", "domain": [{"year": 1997, "month": 3, "date": 28, "utc": true}, {"year": 1997, "month": 8, "date": 26, "utc": true}]},
                  "axis": {"orient": "bottom", "labels": false, "tickCount": {"interval": "day", "step": 1}, "tickSize": 4, "tickColor": "black", "tickWidth": 1, "domainColor": "black", "domainWidth": 2.5, "title": null}},
            "y": {"field": "bon_avg", "type": "quantitative", "scale": {"domain": [0, 12]},
                  "axis": {"values": [0, 5, 10], "ticks": false, "labelFontSize": 26, "labelPadding": 0, "labelOffset": 9, "domainColor": "black", "domainWidth": 2, "title": null}}
          }
        },
        {
          "mark": {"type": "line", "color": "black", "strokeWidth": 6, "strokeJoin": "round", "clip": true},
          "encoding": {
            "x": {"field": "date", "type": "temporal", "axis": {"orient": "top", "ticks": false, "labels": false, "domainColor": "black", "domainWidth": 2, "title": null}},
            "y": {"field": "bon_1997", "type": "quantitative",
                  "axis": {"values": [0, 5, 10], "ticks": false, "labelFontSize": 26, "labelPadding": 0, "labelOffset": 9, "domainColor": "black", "domainWidth": 2, "title": null}}
          }
        },
        {
          "data": {"values": [{"label": "Bonneville Dam"}]},
          "mark": {"type": "text", "align": "left", "baseline": "middle", "fontSize": 30},
          "encoding": {
            "x": {"datum": {"year": 1997, "month": 3, "date": 29, "hours": 10, "utc": true}, "type": "temporal", "axis": null},
            "y": {"datum": 9.95, "type": "quantitative",
                  "axis": {"values": [0, 5, 10], "ticks": false, "labelFontSize": 26, "labelPadding": 0, "labelOffset": 9, "domainColor": "black", "domainWidth": 2, "title": null}},
            "text": {"field": "label"}
          }
        },
        {
          "data": {"values": [{"label": "Gray: 1987-1996 Av Secchi depth"}]},
          "mark": {"type": "text", "align": "left", "baseline": "middle", "fontSize": 30},
          "encoding": {
            "x": {"datum": {"year": 1997, "month": 5, "date": 1, "hours": 7, "utc": true}, "type": "temporal", "axis": null},
            "y": {"datum": 9.95, "type": "quantitative",
                  "axis": {"values": [0, 5, 10], "ticks": false, "labelFontSize": 26, "labelPadding": 0, "labelOffset": 9, "domainColor": "black", "domainWidth": 2, "title": null}},
            "text": {"field": "label"}
          }
        },
        {
          "data": {"values": [{"series": "1997 Secchi depth"}]},
          "mark": {"type": "rule", "color": "black", "strokeWidth": 6.5, "strokeCap": "round"},
          "encoding": {
            "x": {"datum": {"year": 1997, "month": 5, "date": 1, "hours": 2, "utc": true}, "type": "temporal", "axis": null},
            "x2": {"datum": {"year": 1997, "month": 5, "date": 13, "utc": true}},
            "y": {"datum": 7.12, "type": "quantitative",
                  "axis": {"values": [0, 5, 10], "ticks": false, "labelFontSize": 26, "labelPadding": 0, "labelOffset": 9, "domainColor": "black", "domainWidth": 2, "title": null}}
          }
        },
        {
          "data": {"values": [{"label": "1997 Secchi depth"}]},
          "mark": {"type": "text", "align": "left", "baseline": "middle", "fontSize": 30},
          "encoding": {
            "x": {"datum": {"year": 1997, "month": 5, "date": 16, "utc": true}, "type": "temporal", "axis": null},
            "y": {"datum": 7.09, "type": "quantitative",
                  "axis": {"values": [0, 5, 10], "ticks": false, "labelFontSize": 26, "labelPadding": 0, "labelOffset": 9, "domainColor": "black", "domainWidth": 2, "title": null}},
            "text": {"field": "label"}
          }
        }
      ],
      "resolve": {"axis": {"x": "independent"}}
    },
    {
      "width": 1079, "height": 216,
      "layer": [
        {
          "mark": {"type": "area", "fill": "#b3b3b3", "stroke": "black", "strokeWidth": 1.2, "clip": true},
          "encoding": {
            "x": {"field": "date", "type": "temporal",
                  "scale": {"type": "utc", "domain": [{"year": 1997, "month": 3, "date": 28, "utc": true}, {"year": 1997, "month": 8, "date": 26, "utc": true}]},
                  "axis": {"orient": "bottom", "labels": false, "tickCount": {"interval": "day", "step": 1}, "tickSize": 4, "tickColor": "black", "tickWidth": 1, "domainColor": "black", "domainWidth": 2.5, "title": null}},
            "y": {"field": "dal_avg", "type": "quantitative", "scale": {"domain": [0, 12]},
                  "axis": {"values": [0, 5, 10], "ticks": false, "labelFontSize": 26, "labelPadding": 0, "labelOffset": 9, "domainColor": "black", "domainWidth": 2, "title": null}}
          }
        },
        {
          "mark": {"type": "line", "color": "black", "strokeWidth": 6, "strokeJoin": "round", "clip": true},
          "encoding": {
            "x": {"field": "date", "type": "temporal", "axis": {"orient": "top", "ticks": false, "labels": false, "domainColor": "black", "domainWidth": 2, "title": null}},
            "y": {"field": "dal_1997", "type": "quantitative",
                  "axis": {"values": [0, 5, 10], "ticks": false, "labelFontSize": 26, "labelPadding": 0, "labelOffset": 9, "domainColor": "black", "domainWidth": 2, "title": null}}
          }
        },
        {
          "data": {"values": [{"label": "The Dalles Dam"}]},
          "mark": {"type": "text", "align": "left", "baseline": "middle", "fontSize": 30},
          "encoding": {
            "x": {"datum": {"year": 1997, "month": 3, "date": 29, "hours": 10, "utc": true}, "type": "temporal", "axis": null},
            "y": {"datum": 9.8, "type": "quantitative",
                  "axis": {"values": [0, 5, 10], "ticks": false, "labelFontSize": 26, "labelPadding": 0, "labelOffset": 9, "domainColor": "black", "domainWidth": 2, "title": null}},
            "text": {"field": "label"}
          }
        }
      ],
      "resolve": {"axis": {"x": "independent"}}
    },
    {
      "width": 1079, "height": 216,
      "layer": [
        {
          "mark": {"type": "area", "fill": "#b3b3b3", "stroke": "black", "strokeWidth": 1.2, "clip": true},
          "encoding": {
            "x": {"field": "date", "type": "temporal",
                  "scale": {"type": "utc", "domain": [{"year": 1997, "month": 3, "date": 28, "utc": true}, {"year": 1997, "month": 8, "date": 26, "utc": true}]},
                  "axis": {"orient": "bottom", "labels": false, "tickCount": {"interval": "day", "step": 1}, "tickSize": 4, "tickColor": "black", "tickWidth": 1, "domainColor": "black", "domainWidth": 2.5, "title": null}},
            "y": {"field": "jd_avg", "type": "quantitative", "scale": {"domain": [0, 12]},
                  "axis": {"values": [0, 5, 10], "ticks": false, "labelFontSize": 26, "labelPadding": 0, "labelOffset": 9, "domainColor": "black", "domainWidth": 2,
                           "title": "Secchi depth (ft)", "titleFontSize": 25, "titlePadding": 49, "titleY": 133}}
          }
        },
        {
          "mark": {"type": "line", "color": "black", "strokeWidth": 6, "strokeJoin": "round", "clip": true},
          "encoding": {
            "x": {"field": "date", "type": "temporal", "axis": {"orient": "top", "ticks": false, "labels": false, "domainColor": "black", "domainWidth": 2, "title": null}},
            "y": {"field": "jd_1997", "type": "quantitative",
                  "axis": {"values": [0, 5, 10], "ticks": false, "labelFontSize": 26, "labelPadding": 0, "labelOffset": 9, "domainColor": "black", "domainWidth": 2,
                           "title": "Secchi depth (ft)", "titleFontSize": 25, "titlePadding": 49, "titleY": 133}}
          }
        },
        {
          "data": {"values": [{"label": "John Day Dam"}]},
          "mark": {"type": "text", "align": "left", "baseline": "middle", "fontSize": 30},
          "encoding": {
            "x": {"datum": {"year": 1997, "month": 3, "date": 29, "hours": 10, "utc": true}, "type": "temporal", "axis": null},
            "y": {"datum": 9.7, "type": "quantitative",
                  "axis": {"values": [0, 5, 10], "ticks": false, "labelFontSize": 26, "labelPadding": 0, "labelOffset": 9, "domainColor": "black", "domainWidth": 2,
                           "title": "Secchi depth (ft)", "titleFontSize": 25, "titlePadding": 49, "titleY": 133}},
            "text": {"field": "label"}
          }
        }
      ],
      "resolve": {"axis": {"x": "independent"}}
    },
    {
      "width": 1079, "height": 218,
      "layer": [
        {
          "mark": {"type": "area", "fill": "#c2c2c2", "stroke": "black", "strokeWidth": 1.2, "clip": true},
          "encoding": {
            "x": {"field": "date", "type": "temporal",
                  "scale": {"type": "utc", "domain": [{"year": 1997, "month": 3, "date": 28, "utc": true}, {"year": 1997, "month": 8, "date": 26, "utc": true}]},
                  "axis": {"orient": "bottom", "labels": false, "tickCount": {"interval": "day", "step": 1}, "tickSize": 4, "tickColor": "black", "tickWidth": 1, "domainColor": "black", "domainWidth": 2.5, "title": null}},
            "y": {"field": "mcn_avg", "type": "quantitative", "scale": {"domain": [0, 12]},
                  "axis": {"values": [0, 5, 10], "ticks": false, "labelFontSize": 26, "labelPadding": 0, "labelOffset": 9, "domainColor": "black", "domainWidth": 2, "title": null}}
          }
        },
        {
          "mark": {"type": "line", "color": "black", "strokeWidth": 6, "strokeJoin": "round", "clip": true},
          "encoding": {
            "x": {"field": "date", "type": "temporal", "axis": {"orient": "top", "ticks": false, "labels": false, "domainColor": "black", "domainWidth": 2, "title": null}},
            "y": {"field": "mcn_1997", "type": "quantitative",
                  "axis": {"values": [0, 5, 10], "ticks": false, "labelFontSize": 26, "labelPadding": 0, "labelOffset": 9, "domainColor": "black", "domainWidth": 2, "title": null}}
          }
        },
        {
          "data": {"values": [{"label": "McNary Dam"}]},
          "mark": {"type": "text", "align": "left", "baseline": "middle", "fontSize": 30},
          "encoding": {
            "x": {"datum": {"year": 1997, "month": 3, "date": 29, "hours": 10, "utc": true}, "type": "temporal", "axis": null},
            "y": {"datum": 9.85, "type": "quantitative",
                  "axis": {"values": [0, 5, 10], "ticks": false, "labelFontSize": 26, "labelPadding": 0, "labelOffset": 9, "domainColor": "black", "domainWidth": 2, "title": null}},
            "text": {"field": "label"}
          }
        }
      ],
      "resolve": {"axis": {"x": "independent"}}
    },
    {
      "width": 1079, "height": 207,
      "layer": [
        {
          "mark": {"type": "area", "fill": "#b3b3b3", "stroke": "black", "strokeWidth": 1.2, "clip": true},
          "encoding": {
            "x": {"field": "date", "type": "temporal",
                  "scale": {"type": "utc", "domain": [{"year": 1997, "month": 3, "date": 28, "utc": true}, {"year": 1997, "month": 8, "date": 26, "utc": true}]},
                  "axis": {"orient": "bottom", "tickCount": {"interval": "day", "step": 1}, "tickSize": 4, "tickColor": "black", "tickWidth": 1, "domainColor": "black", "domainWidth": 2.5, "title": null,
                           "labelExpr": "(datum.value - utc(1997, 3, 1)) % 1209600000 == 0 ? utcFormat(datum.value, '%d-%b') : ''",
                           "labelFontSize": 24.5, "labelPadding": 27, "labelOverlap": false, "labelFlush": false, "labelBound": false}},
            "y": {"field": "pr_avg", "type": "quantitative", "scale": {"domain": [0, 12]},
                  "axis": {"values": [0, 5, 10], "ticks": false, "labelFontSize": 26, "labelPadding": 0, "labelOffset": 9, "domainColor": "black", "domainWidth": 2, "title": null}}
          }
        },
        {
          "mark": {"type": "line", "color": "black", "strokeWidth": 6, "strokeJoin": "round", "clip": true},
          "encoding": {
            "x": {"field": "date", "type": "temporal", "axis": {"orient": "top", "ticks": false, "labels": false, "domainColor": "black", "domainWidth": 2, "title": null}},
            "y": {"field": "pr_1997", "type": "quantitative",
                  "axis": {"values": [0, 5, 10], "ticks": false, "labelFontSize": 26, "labelPadding": 0, "labelOffset": 9, "domainColor": "black", "domainWidth": 2, "title": null}}
          }
        },
        {
          "data": {"values": [{"label": "Priest Rapids Dam"}]},
          "mark": {"type": "text", "align": "left", "baseline": "middle", "fontSize": 30},
          "encoding": {
            "x": {"datum": {"year": 1997, "month": 3, "date": 29, "hours": 10, "utc": true}, "type": "temporal", "axis": null},
            "y": {"datum": 9.45, "type": "quantitative",
                  "axis": {"values": [0, 5, 10], "ticks": false, "labelFontSize": 26, "labelPadding": 0, "labelOffset": 9, "domainColor": "black", "domainWidth": 2, "title": null}},
            "text": {"field": "label"}
          }
        },
        {
          "data": {"values": [{"label": "Av Secchi Depth 1992-1996"}]},
          "mark": {"type": "text", "align": "left", "baseline": "middle", "fontSize": 30},
          "encoding": {
            "x": {"datum": {"year": 1997, "month": 6, "date": 28, "hours": 5, "utc": true}, "type": "temporal", "axis": null},
            "y": {"datum": 2.26, "type": "quantitative",
                  "axis": {"values": [0, 5, 10], "ticks": false, "labelFontSize": 26, "labelPadding": 0, "labelOffset": 9, "domainColor": "black", "domainWidth": 2, "title": null}},
            "text": {"field": "label"}
          }
        }
      ],
      "resolve": {"axis": {"x": "independent"}}
    }
  ]
}
